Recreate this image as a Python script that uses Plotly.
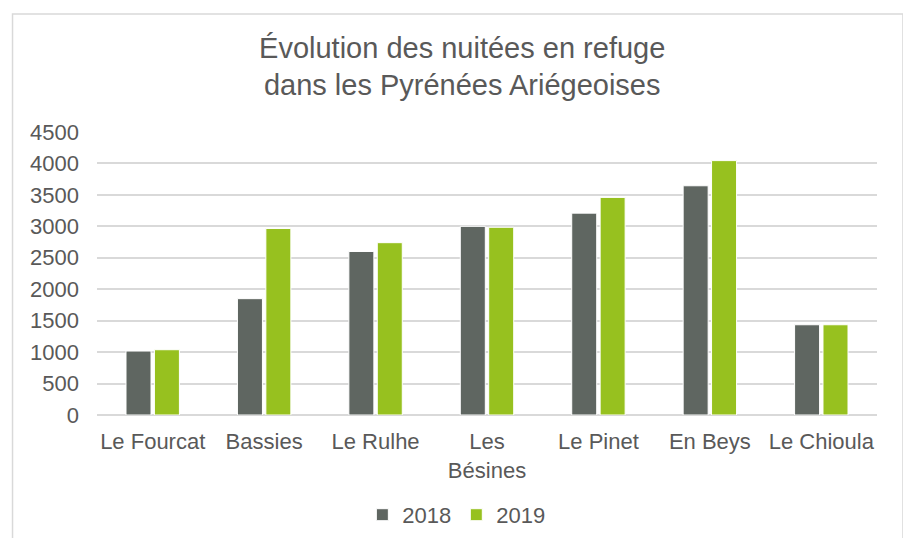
import plotly.graph_objects as go

refuges = ["Le Fourcat", "Bassies", "Le Rulhe", "Les<br>Bésines", "Le Pinet", "En Beys", "Le Chioula"]
nuitees_2018 = [1017, 1850, 2600, 3000, 3210, 3645, 1435]
nuitees_2019 = [1038, 2965, 2740, 2985, 3460, 4045, 1435]
y_ticks = [0, 500, 1000, 1500, 2000, 2500, 3000, 3500, 4000, 4500]

TEXT = "#595959"
GRID = "#d9d9d9"

fig = go.Figure()
fig.add_trace(go.Bar(x=refuges, y=nuitees_2018, name="2018",
                     marker=dict(color="#5f6661", line=dict(color="white", width=1))))
fig.add_trace(go.Bar(x=refuges, y=nuitees_2019, name="2019",
                     marker=dict(color="#97c11f", line=dict(color="white", width=1))))

# page body has an 8px margin, so the figure is 903x530 and sits at (8, 8)
fig.update_layout(
    width=903, height=530,
    margin=dict(l=89, r=34, t=124, b=123, autoexpand=False),
    paper_bgcolor="white", plot_bgcolor="white",
    font=dict(family="Liberation Sans, Arial, sans-serif", size=22, color=TEXT),
    title=dict(text="Évolution des nuitées en refuge<br>dans les Pyrénées Ariégeoises",
               x=0.503, xanchor="center", y=0.9066, yanchor="middle",
               font=dict(size=29, color=TEXT)),
    barmode="group", bargap=0.49, bargroupgap=0.12,
    showlegend=True,
    legend=dict(orientation="h", x=0.4607, xanchor="center", y=-0.353, yanchor="middle",
                font=dict(size=22, color=TEXT), itemwidth=30),
    shapes=[dict(type="rect", xref="paper", yref="paper",
                 x0=-0.1083, x1=1.0333, y0=-0.6, y1=1.417,
                 line=dict(color=GRID, width=1.5), fillcolor="rgba(0,0,0,0)")],
)
fig.update_yaxes(range=[0, 4500], tickvals=y_ticks, showgrid=True, gridcolor=GRID, gridwidth=1.5,
                 zeroline=True, zerolinecolor=GRID, zerolinewidth=1.5,
                 showline=False, ticklabelstandoff=17, automargin=False)
fig.update_xaxes(showgrid=False, showline=False, ticks="", ticklabelstandoff=11, automargin=False)

fig.write_html("out.html")
